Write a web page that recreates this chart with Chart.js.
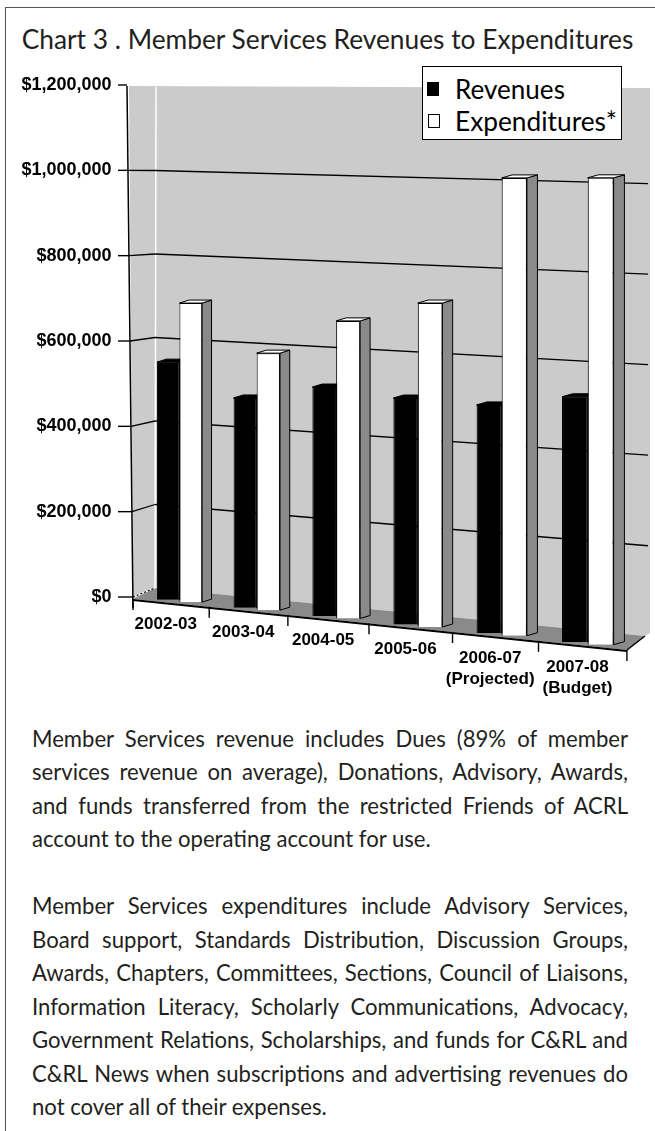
<!DOCTYPE html>
<html>
<head>
<meta charset="utf-8">
<script src="https://cdn.jsdelivr.net/npm/chart.js@4.4.1/dist/chart.umd.min.js"></script>
<style>
html,body{margin:0;padding:0;background:#fff;}
body{width:655px;height:1131px;position:relative;overflow:hidden;font-family:Lato,"Open Sans",sans-serif;color:#231f20;}
#frameTop{position:absolute;left:5px;top:7px;width:650px;height:0;border-top:1.5px solid #555;}
#frameLeft{position:absolute;left:5px;top:7px;width:0;height:1124px;border-left:1.5px solid #555;}
#title{position:absolute;left:0;width:655px;top:24px;line-height:30px;text-align:center;font-size:24px;white-space:nowrap;}
#chartWrap{position:absolute;left:0;top:0;width:655px;height:710px;}
#legend{position:absolute;left:422px;top:66px;width:200px;height:74px;border:1.5px solid #000;background:#fff;box-sizing:border-box;}
#legend .sw{position:absolute;width:12px;height:14px;box-sizing:border-box;}
#legend .tx{position:absolute;left:32px;font-size:22px;line-height:26px;white-space:nowrap;color:#000;}
.ln{position:absolute;left:32px;width:596px;font-size:19px;line-height:33.5px;text-align:justify;text-align-last:justify;white-space:nowrap;}
.ln.last{text-align-last:left;}
</style>
</head>
<body>
<div id="frameTop"></div>
<div id="frameLeft"></div>
<div id="title">Chart 3 . Member Services Revenues to Expenditures</div>
<div id="chartWrap"><canvas id="c"></canvas></div>
<div id="legend">
  <div class="sw" style="left:4px;top:15px;background:#000;"></div>
  <div class="tx" id="lg1" style="top:9px;">Revenues</div>
  <div class="sw" style="left:5px;top:47px;border:1.5px solid #000;background:#fff;"></div>
  <div class="tx" id="lg2" style="top:41px;">Expenditures*</div>
</div>
<div id="text"></div>
<script>
// ---------- data ----------
const categories = [['2002-03'], ['2003-04'], ['2004-05'], ['2005-06'], ['2006-07', '(Projected)'], ['2007-08', '(Budget)']];
const revenues = [568000, 495000, 533000, 520000, 517000, 548000];
const expenditures = [712000, 604000, 690000, 741000, 1033000, 1039000];
const yTicks = [0, 200000, 400000, 600000, 800000, 1000000, 1200000];
const seriesNames = ['Revenues', 'Expenditures*'];

const paragraphLines = [
  'Member Services revenue includes Dues (89% of member',
  'services revenue on average), Donations, Advisory, Awards,',
  'and funds transferred from the restricted Friends of ACRL',
  'account to the operating account for use.',
  '',
  'Member Services expenditures include Advisory Services,',
  'Board support, Standards Distribution, Discussion Groups,',
  'Awards, Chapters, Committees, Sections,  Council of Liaisons,',
  'Information Literacy, Scholarly Communications, Advocacy,',
  'Government Relations, Scholarships, and funds for C&RL and',
  'C&RL News when subscriptions and advertising revenues do',
  'not cover all of their expenses.'
];
const lastLines = [3, 11];

// ---------- text layout ----------
function naturalWidth(el) {
  const s = getComputedStyle(el);
  const sp = document.createElement('span');
  sp.style.cssText = 'position:absolute;visibility:hidden;white-space:pre;font-family:' + s.fontFamily +
    ';font-size:' + s.fontSize + ';font-weight:' + s.fontWeight + ';letter-spacing:' + s.letterSpacing;
  sp.textContent = el.textContent;
  document.body.appendChild(sp);
  const w = sp.getBoundingClientRect().width;
  sp.remove();
  return w;
}
function fitTo(el, target) {
  const fs = parseFloat(getComputedStyle(el).fontSize);
  el.style.fontSize = (fs * target / naturalWidth(el)) + 'px';
}
const textBox = document.getElementById('text');
const lineEls = [];
paragraphLines.forEach((t, k) => {
  if (!t) return;
  const d = document.createElement('div');
  const isLast = lastLines.includes(k);
  d.className = 'ln' + (isLast ? ' last' : '');
  d.style.top = (722 + k * 33.45) + 'px';
  d.textContent = t;
  textBox.appendChild(d);
  lineEls.push([d, isLast]);
});
let maxRatio = 0;
lineEls.forEach(([d, isLast]) => { if (!isLast) maxRatio = Math.max(maxRatio, naturalWidth(d) / 596); });
const baseFs = 19 / maxRatio * 0.995;
lineEls.forEach(([d]) => d.style.fontSize = baseFs + 'px');
fitTo(document.getElementById('title'), 612);
fitTo(document.getElementById('lg1'), 110);
fitTo(document.getElementById('lg2'), 162);

// ---------- perspective geometry (screen-space) ----------
const G = {
  fbY: x => 600 + 0.1037 * (x - 170),
  hb: x => 501 + (x - 155) * 42 / 490,
  backY: (x, t) => { const f = (x - 155) / 490; return 588 + 48 * f - t * (501 + 42 * f); },
  xBar: u => 157 + 75.5 * (u - 0.2037) + 1.1 * (u - 0.2037) * (u - 0.2037),
  dxBar: u => 75.5 + 2.2 * (u - 0.2037),
  xFront: u => 133 + 75 * u + 1.22 * u * u,
  yFront: x => 599 + (x - 133) * 51 / 494,
  axisX: y => 127 + (y - 86) * 6 / 513
};
function poly(ctx, pts) { ctx.beginPath(); pts.forEach((p, i) => i ? ctx.lineTo(p[0], p[1]) : ctx.moveTo(p[0], p[1])); ctx.closePath(); }
function seg(ctx, x1, y1, x2, y2, c, w, dash) {
  ctx.save(); ctx.beginPath(); ctx.strokeStyle = c; ctx.lineWidth = w; if (dash) ctx.setLineDash(dash);
  ctx.moveTo(x1, y1); ctx.lineTo(x2, y2); ctx.stroke(); ctx.restore();
}

const perspective = {
  id: 'perspective',
  beforeDraw(chart) {
    const ctx = chart.ctx, ys = chart.scales.y, xs = chart.scales.x;
    const yMax = ys.max;
    ctx.save();
    ctx.fillStyle = '#cbcbcb';
    poly(ctx, [[129, 86], [650, 88], [650, 633], [645, 636], [155, 588], [133, 599]]); ctx.fill();
    ctx.fillStyle = '#8a8a8a';
    poly(ctx, [[155, 588], [645, 636], [627, 650], [133, 599]]); ctx.fill();
    seg(ctx, 156, 87, 155, 588, '#ffffff', 1.5);
    ys.ticks.forEach(tk => {
      const v = tk.value, t = v / yMax, yf = ys.getPixelForValue(v), ax = G.axisX(yf);
      seg(ctx, 118, yf, ax, yf, '#000', 1.4);
      if (v === 0) {
        seg(ctx, ax, yf, 155, G.backY(155, 0), '#fff', 1.2);
        seg(ctx, ax, yf, 155, G.backY(155, 0), '#000', 1.2, [2, 2]);
      } else if (v < yMax) {
        seg(ctx, ax, yf, 155, G.backY(155, t), '#000', 1.3);
        seg(ctx, 155, G.backY(155, t), 648, G.backY(648, t), '#000', 1.3);
      }
    });
    seg(ctx, 127, 86, 133, 608, '#000', 1.5);
    seg(ctx, 133, 600, 627, 651, '#000', 2);
    seg(ctx, 627, 650, 645, 636, '#000', 1.5);
    const n = xs.getLabels().length;
    for (let u = 0; u <= n; u++) {
      const fx = G.xFront(u), fy = G.yFront(fx);
      seg(ctx, fx, fy, fx, fy + 11, '#000', 1.4);
    }
    ctx.restore();
  },
  beforeDatasetsDraw(chart) {
    const ctx = chart.ctx, xs = chart.scales.x, ys = chart.scales.y;
    const catW = xs.width / xs.getLabels().length;
    const y0 = ys.getPixelForValue(0), hFlat = y0 - ys.getPixelForValue(ys.max);
    const metas = [chart.getDatasetMeta(0), chart.getDatasetMeta(1)];
    const faceCol = ['#000', '#8a8a8a'], capCol = ['#000', '#fff'];
    for (let i = 0; i < xs.getLabels().length; i++) {
      metas.forEach((meta, di) => {
        const el = meta.data[i];
        const p = el.getProps(['x', 'y', 'base', 'width'], true);
        const uc = (p.x - xs.left) / catW;
        const xc = G.xBar(uc), sx = G.dxBar(uc) / catW;
        const sy = G.hb(xc) / hFlat, ty = G.fbY(xc) - y0 * sy, tx = xc - sx * p.x;
        const L = xc - sx * p.width / 2, R = xc + sx * p.width / 2;
        const T = ty + sy * p.y, B = ty + sy * p.base;
        const d = 10 * sx, r = 3;
        ctx.save();
        ctx.lineWidth = 1; ctx.strokeStyle = '#000';
        ctx.fillStyle = faceCol[di];
        poly(ctx, [[R, T], [R + d, T - r], [R + d, B - r], [R, B]]); ctx.fill(); ctx.stroke();
        ctx.fillStyle = capCol[di];
        poly(ctx, [[L, T], [L + d, T - r], [R + d, T - r], [R, T]]); ctx.fill(); ctx.stroke();
        ctx.restore();
        ctx.save();
        ctx.transform(sx, 0, 0, sy, tx, ty);
        el.draw(ctx, chart.chartArea);
        ctx.restore();
      });
    }
    return false;
  },
  afterDraw(chart) {
    const ctx = chart.ctx, xs = chart.scales.x;
    const catW = xs.width / xs.getLabels().length;
    ctx.save();
    ctx.fillStyle = '#000';
    ctx.font = 'bold 17px "Liberation Sans", Arial, sans-serif';
    ctx.textAlign = 'center'; ctx.textBaseline = 'middle';
    xs.getLabels().forEach((lab, i) => {
      const u = (xs.getPixelForTick(i) - xs.left) / catW;
      const xm = G.xFront(u) - 5, ym = G.yFront(xm) + 22;
      [].concat(lab).forEach((s, j) => ctx.fillText(s, xm, ym + j * 21));
    });
    ctx.restore();
  }
};

new Chart(document.getElementById('c'), {
  type: 'bar',
  data: {
    labels: categories,
    datasets: [
      {label: seriesNames[0], data: revenues, backgroundColor: '#000', borderColor: '#000', borderWidth: 1,
       categoryPercentage: 0.5926, barPercentage: 1},
      {label: seriesNames[1], data: expenditures, backgroundColor: '#fff', borderColor: '#000', borderWidth: 1,
       categoryPercentage: 0.5926, barPercentage: 1}
    ]
  },
  options: {
    responsive: true, maintainAspectRatio: false, animation: false, devicePixelRatio: 1,
    layout: {padding: {left: 0, top: 85, right: 28.5, bottom: 113}},
    plugins: {legend: {display: false}, tooltip: {enabled: false}, title: {display: false}},
    scales: {
      x: {display: false},
      y: {
        min: 0, max: 1200000,
        afterBuildTicks: s => { s.ticks = yTicks.map(v => ({value: v})); },
        afterFit: s => { s.width = 140.5; },
        grid: {display: false}, border: {display: false},
        ticks: {
          padding: 21, color: '#000',
          font: {family: '"Liberation Sans", Arial, sans-serif', size: 18, weight: 'bold'},
          callback: v => '$' + Number(v).toLocaleString('en-US')
        }
      }
    }
  },
  plugins: [perspective]
});
</script>
</body>
</html>
